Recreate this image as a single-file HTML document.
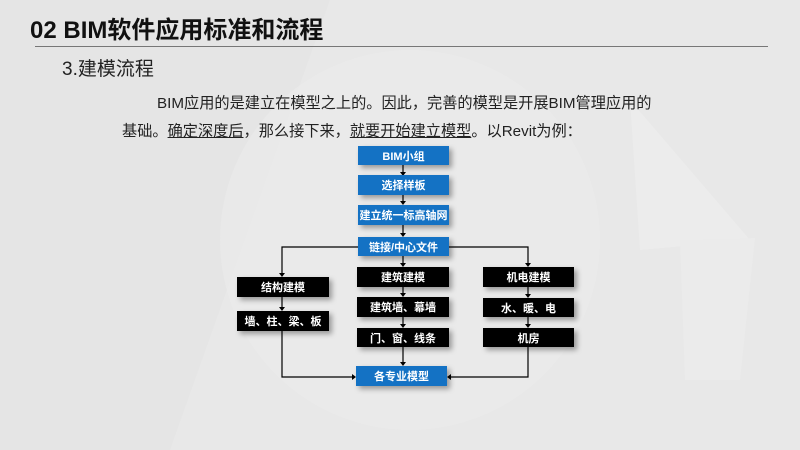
<!DOCTYPE html>
<html><head><meta charset="utf-8"><style>
body{margin:0;width:800px;height:450px;overflow:hidden;background:#e8e8e8;font-family:"Liberation Sans","Noto Sans CJK SC",sans-serif;position:relative}
.a{position:absolute;white-space:nowrap}
.b{position:absolute;color:#fff;font-weight:bold;font-size:11px;display:flex;align-items:center;justify-content:center;box-shadow:3px 3px 5px rgba(0,0,0,.35)}
.bl{background:#1472c4}.bk{background:#000}
u{text-decoration:underline}
</style></head><body>
<svg class="a" style="left:0;top:0" width="800" height="450">
<polygon points="0,0 330,0 170,450 0,450" fill="#e5e5e5"/>
<polygon points="630,100 750,240 640,250" fill="#ececec"/>
<polygon points="680,240 755,238 740,380 685,380" fill="#ebebeb"/>
<circle cx="410" cy="240" r="190" fill="#ebebeb" opacity=".6"/>
<line x1="35" y1="46.5" x2="768" y2="46.5" stroke="#777" stroke-width="1"/>
<g stroke="#000" stroke-width="1.2" fill="none">
<line x1="403" y1="165" x2="403" y2="172"/><line x1="403" y1="195" x2="403" y2="202"/><line x1="403" y1="225" x2="403" y2="234"/>
<line x1="403" y1="256" x2="403" y2="264"/><line x1="403" y1="287" x2="403" y2="294"/><line x1="403" y1="317" x2="403" y2="325"/><line x1="403" y1="347" x2="403" y2="363"/>
<polyline points="358,247 282,247 282,274"/><polyline points="449,247 528,247 528,264"/>
<line x1="282" y1="297" x2="282" y2="308"/><line x1="528" y1="287" x2="528" y2="295"/><line x1="528" y1="317" x2="528" y2="325"/>
<polyline points="282,331 282,377 353,377"/><polyline points="528,347 528,377 450,377"/>
</g>
<g fill="#000">
<polygon points="400,172 406,172 403,176"/><polygon points="400,201 406,201 403,205"/><polygon points="400,233 406,233 403,237"/>
<polygon points="400,263 406,263 403,267"/><polygon points="400,293 406,293 403,297"/><polygon points="400,324 406,324 403,328"/><polygon points="400,362 406,362 403,366"/>
<polygon points="279,273 285,273 282,277"/><polygon points="525,263 531,263 528,267"/>
<polygon points="279,307 285,307 282,311"/><polygon points="525,294 531,294 528,298"/><polygon points="525,324 531,324 528,328"/>
<polygon points="352,374 352,380 356,377"/><polygon points="451,374 451,380 447,377"/>
</g>
</svg>
<div class="a" style="left:30px;top:10px;font-size:24px;font-weight:bold;color:#111">02 BIM软件应用标准和流程</div>
<div class="a" style="left:62px;top:54px;font-size:19px;color:#222">3.建模流程</div>
<div class="a" style="left:157px;top:91px;font-size:15.2px;color:#222">BIM应用的是建立在模型之上的。因此，完善的模型是开展BIM管理应用的</div>
<div class="a" style="left:122px;top:119px;font-size:15.2px;color:#222">基础。<u>确定深度后</u>，那么接下来，<u>就要开始建立模型</u>。以Revit为例：</div>
<div class="b bl" style="left:358px;top:146px;width:91px;height:19px">BIM小组</div>
<div class="b bl" style="left:358px;top:175px;width:91px;height:20px">选择样板</div>
<div class="b bl" style="left:358px;top:205px;width:91px;height:20px">建立统一标高轴网</div>
<div class="b bl" style="left:358px;top:237px;width:91px;height:19px">链接/中心文件</div>
<div class="b bk" style="left:357px;top:267px;width:92px;height:20px">建筑建模</div>
<div class="b bk" style="left:357px;top:297px;width:92px;height:20px">建筑墙、幕墙</div>
<div class="b bk" style="left:357px;top:328px;width:92px;height:19px">门、窗、线条</div>
<div class="b bl" style="left:356px;top:366px;width:91px;height:20px">各专业模型</div>
<div class="b bk" style="left:237px;top:277px;width:92px;height:20px">结构建模</div>
<div class="b bk" style="left:237px;top:311px;width:92px;height:20px">墙、柱、梁、板</div>
<div class="b bk" style="left:483px;top:267px;width:91px;height:20px">机电建模</div>
<div class="b bk" style="left:483px;top:298px;width:91px;height:19px">水、暖、电</div>
<div class="b bk" style="left:483px;top:328px;width:91px;height:19px">机房</div>
</body></html>
